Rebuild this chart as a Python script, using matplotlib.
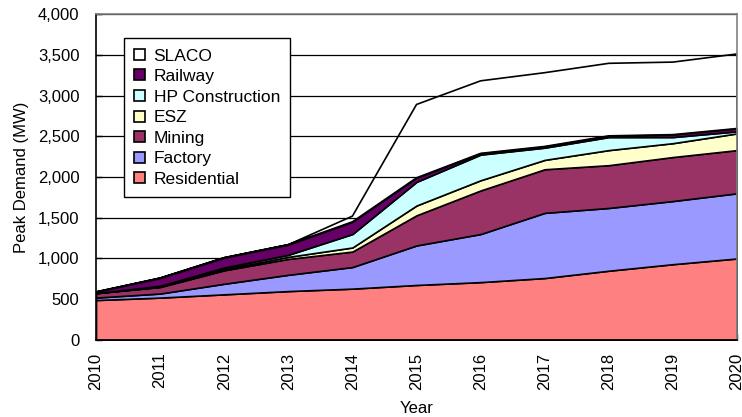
import matplotlib
matplotlib.use("Agg")
import matplotlib.pyplot as plt
from matplotlib.ticker import FuncFormatter

plt.rcParams["font.family"] = ["Liberation Sans", "DejaVu Sans"]
plt.rcParams["font.size"] = 12

years = [2010, 2011, 2012, 2013, 2014, 2015, 2016, 2017, 2018, 2019, 2020]

# peak demand per sector, MW (stacked bottom to top)
residential = [490, 520, 560, 600, 630, 675, 710, 760, 850, 930, 1000]
factory = [30, 50, 130, 200, 265, 485, 590, 800, 770, 775, 800]
mining = [55, 80, 165, 195, 190, 370, 535, 535, 525, 540, 530]
esz = [0, 5, 15, 25, 50, 120, 125, 115, 185, 170, 205]
hp_construction = [0, 10, 20, 25, 165, 290, 315, 150, 160, 75, 25]
railway = [15, 95, 120, 125, 150, 50, 15, 15, 15, 30, 35]
slaco = [0, 0, 0, 0, 70, 900, 890, 905, 890, 890, 915]

labels = ["Residential", "Factory", "Mining", "ESZ", "HP Construction", "Railway", "SLACO"]
colors = ["#FF8080", "#9999FF", "#993366", "#FFFFCC", "#CCFFFF", "#660066", "none"]

fig = plt.figure(figsize=(7.42, 4.17), dpi=100)
ax = fig.add_axes([0.1294, 0.1847, 0.9933 - 0.1294, 0.9664 - 0.1847])

ax.stackplot(years, residential, factory, mining, esz, hp_construction, railway, slaco,
             labels=labels, colors=colors, edgecolor="black", linewidth=1.2)

ax.set_xlim(2010, 2020)
ax.set_ylim(0, 4000)
ax.set_xticks(years)
ax.set_xticklabels([str(y) for y in years], rotation=90)
ax.set_yticks(range(0, 4001, 500))
ax.yaxis.set_major_formatter(FuncFormatter(lambda v, p: f"{int(v):,}"))

ax.set_axisbelow(True)
ax.grid(axis="y", color="black", linewidth=0.9)
ax.tick_params(direction="in", length=4, width=1, color="black")
ax.tick_params(axis="y", pad=12)
ax.tick_params(axis="x", pad=9)

for side in ("top", "right"):
    ax.spines[side].set_color("#808080")
    ax.spines[side].set_linewidth(1.2)
for side in ("left", "bottom"):
    ax.spines[side].set_color("black")
    ax.spines[side].set_linewidth(1.2)

ax.set_xlabel("Year", labelpad=8)
ax.set_ylabel("Peak Demand (MW)", labelpad=6)

handles, names = ax.get_legend_handles_labels()
leg = ax.legend(handles[::-1], names[::-1], loc="upper left",
                bbox_to_anchor=(0.0437, 0.926), borderaxespad=0,
                frameon=True, fancybox=False, edgecolor="black", framealpha=1,
                handlelength=0.6, handleheight=0.6, handletextpad=0.5,
                labelspacing=0.32, borderpad=0.6, fontsize=12.5)
leg.get_frame().set_linewidth(1.0)

plt.savefig("out.png", dpi=100)
